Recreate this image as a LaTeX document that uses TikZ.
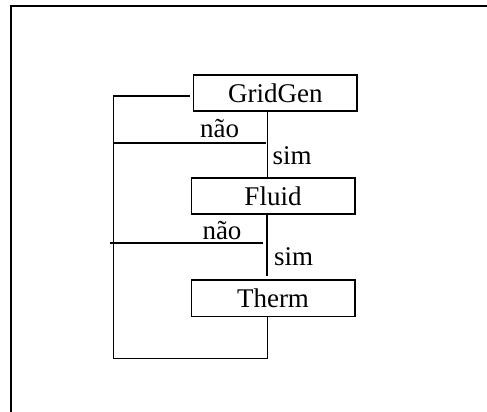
\documentclass[tikz,border=0pt]{standalone}
\usepackage{fontspec}
\setmainfont{Liberation Serif}
\begin{document}
\begin{tikzpicture}[x=1pt,y=-1pt,
  line/.style={line width=1.6pt},
  frame/.style={line width=2.2pt},
  stage/.style={draw,line width=1.6pt,rectangle,minimum width=163.4pt,minimum height=36.3pt,inner sep=0pt,font=\fontsize{27}{32}\selectfont},
  lbl/.style={inner sep=0pt,anchor=base west,font=\fontsize{27}{32}\selectfont}]
\useasboundingbox (0,0) rectangle (487,412);
% page frame (left and top edges)
\coordinate (fbl) at (11,412);
\coordinate (ftl) at (11,5.7);
\coordinate (ftr) at (487,5.7);
\draw[frame] (fbl) -- (ftl) -- (ftr);
% stages
\node[stage] (gg) at (275.35,92.85) {GridGen};
\node[stage] (fl) at (273,195.85) {Fluid};
\node[stage] (th) at (273,298.35) {Therm};
% junction points
\coordinate (ltop) at (113.3,96);
\coordinate (lbot) at (113.3,358.3);
\coordinate (rbot) at (267.3,358.3);
\coordinate (n1w) at (113.3,142.7);
\coordinate (n1e) at (265.7,142.7);
\coordinate (n2w) at (110,243);
\coordinate (n2e) at (263.3,243);
\coordinate (v2) at (266.7,276);
% "sim" paths
\draw[line] (gg.south -| rbot) -- (fl.north -| rbot);
\draw[line] (fl.south -| v2) -- (v2);
% return loop
\draw[line] (th.south -| rbot) -- (rbot) -- (lbot) -- (ltop) -- ([xshift=-2.4pt]gg.west |- ltop);
% "não" branches
\draw[line] (n1w) -- (n1e);
\draw[line] (n2w) -- (n2e);
% labels
\node[lbl] (nao1) at (200,137.3) {não};
\node[lbl] (sim1) at (272.3,164) {sim};
\node[lbl] (nao2) at (202.3,239.3) {não};
\node[lbl] (sim2) at (274,265.7) {sim};
\end{tikzpicture}
\end{document}
